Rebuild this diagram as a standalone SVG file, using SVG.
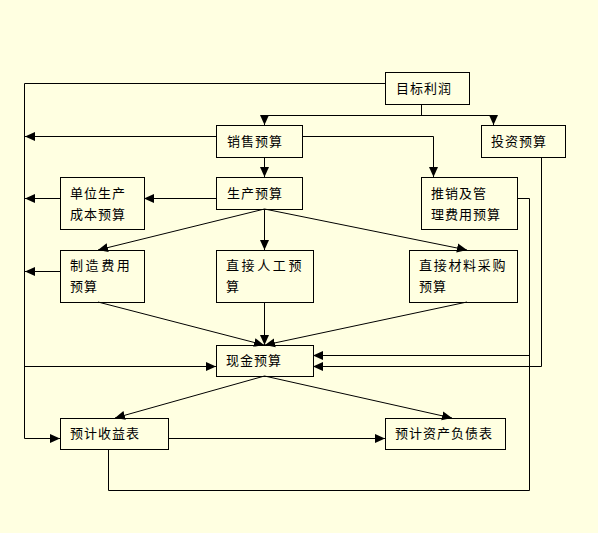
<svg xmlns="http://www.w3.org/2000/svg" width="598" height="533" viewBox="0 0 598 533">
<defs>
<marker id="ah" markerUnits="userSpaceOnUse" markerWidth="10" markerHeight="10" viewBox="0 0 10 10" refX="10" refY="5" orient="auto">
<path d="M0,0.5 L10,5 L0,9.5 z" fill="#000"/>
</marker>
</defs>
<style>
.bx{fill:none;stroke:#000;stroke-width:1}
.t{font-family:"Noto Sans CJK SC","Liberation Sans",sans-serif;font-size:13px;letter-spacing:1px;fill:#000}
.c{fill:none;stroke:#000;stroke-width:1}
.a{marker-end:url(#ah)}
</style>
<rect x="0" y="0" width="598" height="533" fill="#FFFFE1"/>
<g id="connectors">
<polyline class="c a" points="385.5,83.5 24.5,83.5 24.5,438.5 60,438.5"/>
<line class="c" x1="421.5" y1="104" x2="421.5" y2="115.5"/>
<line class="c" x1="264.5" y1="115.5" x2="493.5" y2="115.5"/>
<line class="c a" x1="264.5" y1="115.5" x2="264.5" y2="125"/>
<line class="c a" x1="493.5" y1="115.5" x2="493.5" y2="125"/>
<line class="c a" x1="216" y1="136.5" x2="25" y2="136.5"/>
<polyline class="c a" points="302,136.5 433.5,136.5 433.5,177"/>
<line class="c a" x1="264.5" y1="157" x2="264.5" y2="177"/>
<line class="c a" x1="216" y1="198.5" x2="144" y2="198.5"/>
<line class="c a" x1="60" y1="198.5" x2="25" y2="198.5"/>
<line class="c a" x1="264.5" y1="209" x2="98" y2="250"/>
<line class="c a" x1="264.5" y1="209" x2="264.5" y2="250"/>
<line class="c a" x1="264.5" y1="209" x2="467" y2="250"/>
<line class="c a" x1="60" y1="271.5" x2="25" y2="271.5"/>
<line class="c a" x1="98" y1="302" x2="264" y2="345"/>
<line class="c a" x1="264.5" y1="302" x2="264.5" y2="345"/>
<line class="c a" x1="467" y1="302" x2="265" y2="345"/>
<line class="c a" x1="24.5" y1="366.5" x2="216" y2="366.5"/>
<polyline class="c" points="517,198.5 529.5,198.5 529.5,490.5 108.5,490.5 108.5,449"/>
<line class="c a" x1="529.5" y1="355.5" x2="313" y2="355.5"/>
<polyline class="c a" points="541.5,157 541.5,366.5 313,366.5"/>
<line class="c a" x1="264.5" y1="376" x2="115" y2="418"/>
<line class="c a" x1="264.5" y1="376" x2="452" y2="418"/>
<line class="c a" x1="168" y1="438.5" x2="385" y2="438.5"/>
</g>
<g id="n-mubiao"><rect class="bx" x="385.5" y="72.5" width="84" height="32"/><text class="t" x="396" y="93">目标利润</text></g>
<g id="n-xiaoshou"><rect class="bx" x="216.5" y="125.5" width="86" height="32"/><text class="t" x="227" y="146">销售预算</text></g>
<g id="n-touzi"><rect class="bx" x="481.5" y="125.5" width="84" height="32"/><text class="t" x="491" y="146">投资预算</text></g>
<g id="n-shengchan"><rect class="bx" x="216.5" y="177.5" width="86" height="32"/><text class="t" x="227" y="198">生产预算</text></g>
<g id="n-danwei"><rect class="bx" x="60.5" y="177.5" width="84" height="52"/><text class="t" x="70" y="198">单位生产</text><text class="t" x="70" y="219">成本预算</text></g>
<g id="n-tuixiao"><rect class="bx" x="421.5" y="177.5" width="96" height="52"/><text class="t" x="431" y="198">推销及管</text><text class="t" x="431" y="219">理费用预算</text></g>
<g id="n-zhizao"><rect class="bx" x="60.5" y="250.5" width="84" height="52"/><text class="t" x="70" y="270" style="letter-spacing:2.6px">制造费用</text><text class="t" x="70" y="291">预算</text></g>
<g id="n-rengong"><rect class="bx" x="216.5" y="250.5" width="97" height="52"/><text class="t" x="226" y="270" style="letter-spacing:2.6px">直接人工预</text><text class="t" x="226" y="291">算</text></g>
<g id="n-cailiao"><rect class="bx" x="409.5" y="250.5" width="108" height="52"/><text class="t" x="419" y="270" style="letter-spacing:1.7px">直接材料采购</text><text class="t" x="419" y="291">预算</text></g>
<g id="n-xianjin"><rect class="bx" x="216.5" y="345.5" width="97" height="31"/><text class="t" x="226" y="365">现金预算</text></g>
<g id="n-shouyi"><rect class="bx" x="60.5" y="418.5" width="108" height="31"/><text class="t" x="70" y="438">预计收益表</text></g>
<g id="n-fuzhai"><rect class="bx" x="385.5" y="418.5" width="120" height="31"/><text class="t" x="395" y="438">预计资产负债表</text></g>
</svg>
